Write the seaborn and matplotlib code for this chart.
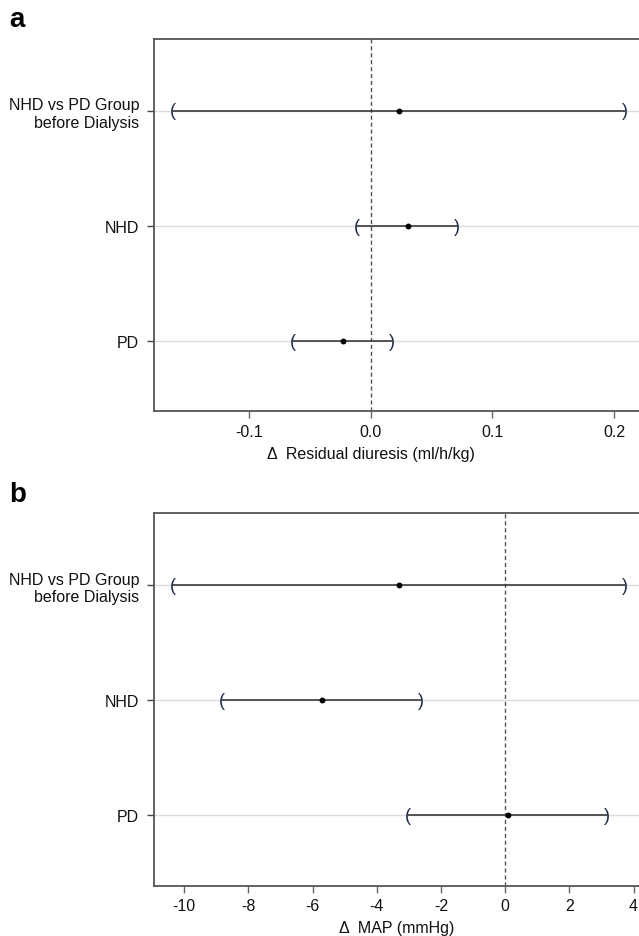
import numpy as np
import pandas as pd
import matplotlib
matplotlib.use("Agg")
import matplotlib.pyplot as plt
import seaborn as sns

sns.set_theme(style="white")
plt.rcParams['font.family'] = ['Liberation Sans', 'DejaVu Sans']

categories = ["NHD vs PD Group\nbefore Dialysis", "NHD", "PD"]

# Panel a: Residual diuresis (ml/h/kg)
a_est = [0.0235, 0.0303, -0.0232]
a_lo = [-0.1626, -0.0113, -0.0640]
a_hi = [0.2086, 0.0709, 0.0171]

# Panel b: MAP (mmHg)
b_est = [-3.32, -5.72, 0.08]
b_lo = [-10.35, -8.83, -3.03]
b_hi = [3.72, -2.63, 3.17]

a_xticks = [-0.1, 0.0, 0.1, 0.2]
a_xticklabels = ["-0.1", "0.0", "0.1", "0.2"]
b_xticks = [-10, -8, -6, -4, -2, 0, 2, 4]
b_xticklabels = ["-10", "-8", "-6", "-4", "-2", "0", "2", "4"]

W, H = 639, 937
fig = plt.figure(figsize=(W / 100, H / 100), dpi=100)

def panel(rect, est, lo, hi, xlim, xticks, xticklabels, xlabel, xlabel_x, letter, letter_y):
    ax = fig.add_axes(rect)
    pos = np.arange(len(categories))
    df = pd.DataFrame({"cat": categories, "pos": pos, "est": est, "lo": lo, "hi": hi})
    for p in pos:
        ax.axhline(p, color="#dcdcdc", lw=1.0, zorder=0)
    ax.axvline(0, color="#555555", lw=1.0, ls=(0, (3, 2)), zorder=1)
    ax.hlines(df["pos"], df["lo"], df["hi"], color="#3a3a3a", lw=1.2, zorder=2)
    sns.scatterplot(data=df, x="est", y="pos", ax=ax, color="black", s=18,
                    edgecolor="black", linewidth=0, zorder=3, legend=False)
    for _, r in df.iterrows():
        ax.text(r["lo"], r["pos"], "(", ha="center", va="center", fontsize=13,
                color="#1f2c48", zorder=4)
        ax.text(r["hi"], r["pos"], ")", ha="center", va="center", fontsize=13,
                color="#1f2c48", zorder=4)
    ax.set_xlim(*xlim)
    ax.set_ylim(2.61, -0.625)
    ax.set_yticks(pos)
    ax.set_yticklabels(categories, fontsize=11.5, color="#111111", ha="right",
                       multialignment="right")
    ax.set_xticks(xticks)
    ax.set_xticklabels(xticklabels, fontsize=11.5, color="#111111")
    ax.set_xlabel(xlabel, fontsize=11.5, color="#111111")
    ax.xaxis.set_label_coords(xlabel_x, -0.092)
    ax.set_ylabel("")
    ax.tick_params(axis="y", left=True, length=5, width=1, color="#444444", pad=6)
    ax.tick_params(axis="x", bottom=True, length=5, width=1, color="#666666", pad=4)
    for s in ["left", "bottom", "top"]:
        ax.spines[s].set_color("#555555")
        ax.spines[s].set_linewidth(1.3)
    ax.spines["right"].set_visible(False)
    fig.text(9 / W, letter_y, letter, fontsize=20, fontweight="bold",
             ha="left", va="center", color="black")
    return ax

left = 154.3 / W
width = 1 - left
panel([left, 1 - 412.3 / H, width, (412.3 - 40) / H], a_est, a_lo, a_hi,
      (-0.178, 0.2205), a_xticks, a_xticklabels,
      "\u0394  Residual diuresis (ml/h/kg)", 0.447, "a", 1 - 20 / H)
panel([left, 1 - 886.7 / H, width, (886.7 - 514.3) / H], b_est, b_lo, b_hi,
      (-10.93, 4.17), b_xticks, b_xticklabels,
      "\u0394  MAP (mmHg)", 0.50, "b", 1 - 495 / H)

fig.savefig("out.png", dpi=100)
